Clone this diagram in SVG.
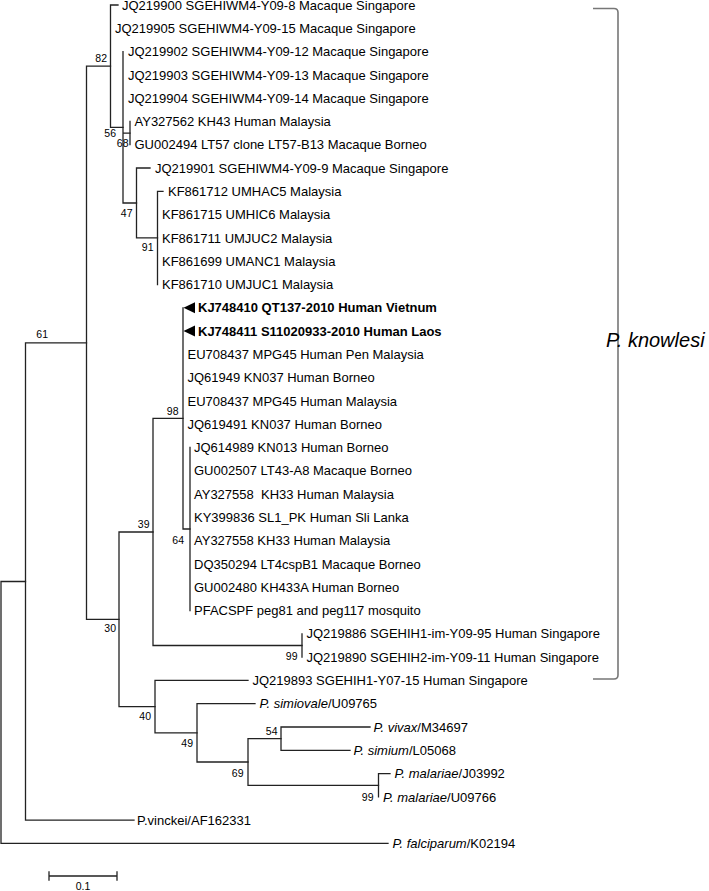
<svg xmlns="http://www.w3.org/2000/svg" width="709" height="891" viewBox="0 0 709 891">
<style>
.br{fill:none;stroke:#222;stroke-width:1.3;stroke-linecap:square}
.t{font-family:"Liberation Sans",Arial,sans-serif;font-size:13px;fill:#000}
.b{font-weight:bold}
.i{font-style:italic}
.bs{font-family:"Liberation Sans",Arial,sans-serif;font-size:10.5px;fill:#000;text-anchor:end}
.mk{fill:#000}
.brk{fill:none;stroke:#777;stroke-width:1.6}
</style>
<rect width="709" height="891" fill="#fff"/>
<g id="connectors">
<path class="br" d="M1 581.5V843.4M1 581.5H25.5M1 843.4H388"/>
<path class="br" d="M25.5 342.8V820.2M25.5 342.8H86.5M25.5 820.2H134"/>
<path class="br" d="M86.5 66.2V619.3M86.5 66.2H110.5M86.5 619.3H119"/>
<path class="br" d="M110.5 5V127.3M110.5 5H118M110.5 127.3H123"/>
<path class="br" d="M123 51.6V203M123 133.1H130M123 203H136.5"/>
<path class="br" d="M130 121.5V144.7"/>
<path class="br" d="M136.5 168V237.9M136.5 168H150M136.5 237.9H157.5"/>
<path class="br" d="M157.5 191.3V284.5M157.5 191.3H163"/>
<path class="br" d="M119 532V706.6M119 532H153M119 706.6H155"/>
<path class="br" d="M153 418.4V645.5M153 418.4H183M153 645.5H302"/>
<path class="br" d="M183 307.8V529M183 529H190"/>
<path class="br" d="M190 447.5V610.5"/>
<path class="br" d="M302 633.8V657.1"/>
<path class="br" d="M155 680.4V732.8M155 680.4H248M155 732.8H197"/>
<path class="br" d="M197 703.7V762M197 703.7H255M197 762H248"/>
<path class="br" d="M248 738.7V785.3M248 738.7H281M248 785.3H378.5"/>
<path class="br" d="M281 727V750.3M281 727H370M281 750.3H350"/>
<path class="br" d="M378.5 773.6V796.9M378.5 773.6H390"/>
</g>
<g id="bootstrap">
<g id="n82"><text class="bs" x="107" y="62">82</text></g>
<g id="n56"><text class="bs" x="116" y="137">56</text></g>
<g id="n68"><text class="bs" x="128.5" y="147">68</text></g>
<g id="n47"><text class="bs" x="132.5" y="217">47</text></g>
<g id="n91"><text class="bs" x="153.5" y="251">91</text></g>
<g id="n61"><text class="bs" x="48" y="338">61</text></g>
<g id="n98"><text class="bs" x="178.5" y="415">98</text></g>
<g id="n39"><text class="bs" x="149.5" y="528">39</text></g>
<g id="n64"><text class="bs" x="184" y="544">64</text></g>
<g id="n30"><text class="bs" x="116" y="632">30</text></g>
<g id="n99a"><text class="bs" x="297.5" y="660">99</text></g>
<g id="n40"><text class="bs" x="151" y="720">40</text></g>
<g id="n49"><text class="bs" x="193" y="747">49</text></g>
<g id="n54"><text class="bs" x="277.5" y="735">54</text></g>
<g id="n69"><text class="bs" x="243.5" y="777">69</text></g>
<g id="n99b"><text class="bs" x="373.5" y="801">99</text></g>
</g>
<g id="tips">
<g id="tip0"><text class="t" x="122" y="9.6">JQ219900 SGEHIWM4-Y09-8 Macaque Singapore</text></g>
<g id="tip1"><text class="t" x="115" y="32.9">JQ219905 SGEHIWM4-Y09-15 Macaque Singapore</text></g>
<g id="tip2"><text class="t" x="128" y="56.2">JQ219902 SGEHIWM4-Y09-12 Macaque Singapore</text></g>
<g id="tip3"><text class="t" x="128" y="79.5">JQ219903 SGEHIWM4-Y09-13 Macaque Singapore</text></g>
<g id="tip4"><text class="t" x="128" y="102.8">JQ219904 SGEHIWM4-Y09-14 Macaque Singapore</text></g>
<g id="tip5"><text class="t" x="134.5" y="126.1">AY327562 KH43 Human Malaysia</text></g>
<g id="tip6"><text class="t" x="134.5" y="149.3">GU002494 LT57 clone LT57-B13 Macaque Borneo</text></g>
<g id="tip7"><text class="t" x="155" y="172.6">JQ219901 SGEHIWM4-Y09-9 Macaque Singapore</text></g>
<g id="tip8"><text class="t" x="168" y="195.9">KF861712 UMHAC5 Malaysia</text></g>
<g id="tip9"><text class="t" x="162" y="219.2">KF861715 UMHIC6 Malaysia</text></g>
<g id="tip10"><text class="t" x="162" y="242.5">KF861711 UMJUC2 Malaysia</text></g>
<g id="tip11"><text class="t" x="162" y="265.8">KF861699 UMANC1 Malaysia</text></g>
<g id="tip12"><text class="t" x="162" y="289.1">KF861710 UMJUC1 Malaysia</text></g>
<g id="tip13"><path class="mk" d="M183.5 307.8L195 302.3V313.3Z"/><text class="t b" x="198" y="312.4">KJ748410 QT137-2010 Human Vietnum</text></g>
<g id="tip14"><path class="mk" d="M183.5 331.1L195 325.6V336.6Z"/><text class="t b" x="198" y="335.7">KJ748411 S11020933-2010 Human Laos</text></g>
<g id="tip15"><text class="t" x="187.5" y="359">EU708437 MPG45 Human Pen Malaysia</text></g>
<g id="tip16"><text class="t" x="187.5" y="382.2">JQ61949 KN037 Human Borneo</text></g>
<g id="tip17"><text class="t" x="187.5" y="405.5">EU708437 MPG45 Human Malaysia</text></g>
<g id="tip18"><text class="t" x="187.5" y="428.8">JQ619491 KN037 Human Borneo</text></g>
<g id="tip19"><text class="t" x="194" y="452.1">JQ614989 KN013 Human Borneo</text></g>
<g id="tip20"><text class="t" x="194" y="475.4">GU002507 LT43-A8 Macaque Borneo</text></g>
<g id="tip21"><text class="t" x="194" y="498.7" xml:space="preserve">AY327558  KH33 Human Malaysia</text></g>
<g id="tip22"><text class="t" x="194" y="522">KY399836 SL1_PK Human Sli Lanka</text></g>
<g id="tip23"><text class="t" x="194" y="545.3">AY327558 KH33 Human Malaysia</text></g>
<g id="tip24"><text class="t" x="194" y="568.6">DQ350294 LT4cspB1 Macaque Borneo</text></g>
<g id="tip25"><text class="t" x="194" y="591.9">GU002480 KH433A Human Borneo</text></g>
<g id="tip26"><text class="t" x="194" y="615.1">PFACSPF peg81 and peg117 mosquito</text></g>
<g id="tip27"><text class="t" x="306.5" y="638.4">JQ219886 SGEHIH1-im-Y09-95 Human Singapore</text></g>
<g id="tip28"><text class="t" x="306.5" y="661.7">JQ219890 SGEHIH2-im-Y09-11 Human Singapore</text></g>
<g id="tip29"><text class="t" x="252.5" y="685">JQ219893 SGEHIH1-Y07-15 Human Singapore</text></g>
<g id="tip30"><text class="t" x="259.5" y="708.3"><tspan class="i">P. simiovale</tspan>/U09765</text></g>
<g id="tip31"><text class="t" x="373.5" y="731.6"><tspan class="i">P. vivax</tspan>/M34697</text></g>
<g id="tip32"><text class="t" x="353.5" y="754.9"><tspan class="i">P. simium</tspan>/L05068</text></g>
<g id="tip33"><text class="t" x="394.5" y="778.2"><tspan class="i">P. malariae</tspan>/J03992</text></g>
<g id="tip34"><text class="t" x="383" y="801.5"><tspan class="i">P. malariae</tspan>/U09766</text></g>
<g id="tip35"><text class="t" x="137" y="824.8">P.vinckei/AF162331</text></g>
<g id="tip36"><text class="t" x="392.5" y="848"><tspan class="i">P. falciparum</tspan>/K02194</text></g>
</g>
<g id="clade-knowlesi">
<path class="brk" d="M593 8.5H614Q618 8.5 618 12.5V675Q618 679 614 679H593"/>
<text class="t i" x="606" y="347" style="font-size:20px">P. knowlesi</text>
</g>
<g id="scalebar">
<path class="br" d="M49 876H117M49 872V880M117 872V880"/>
<text class="bs" x="83" y="890" style="text-anchor:middle">0.1</text>
</g>
</svg>
